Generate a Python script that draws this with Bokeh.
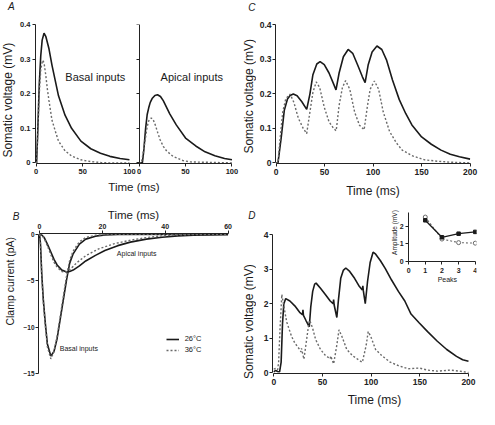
import numpy as np
from bokeh.plotting import figure
from bokeh.layouts import row, column
from bokeh.models import (Range1d, LinearAxis, FixedTicker, Label, Legend,
                          LegendItem, CustomJSTickFormatter)
from bokeh.embed import file_html
from bokeh.resources import INLINE

# ---------------- data ----------------
# Panel A, basal inputs (somatic voltage, mV)
a_bas_t26 = [0, 0.5, 1.7, 3.4, 5, 6.5, 8.5, 10.5, 13.8, 17, 20.7, 24, 31, 38, 48, 58.6, 69, 79, 90, 100]
a_bas_v26 = [0, 0, 0.086, 0.227, 0.31, 0.355, 0.375, 0.365, 0.33, 0.283, 0.236, 0.194, 0.138, 0.10, 0.063, 0.041, 0.028, 0.019, 0.013, 0.009]
a_bas_t36 = [0, 0.5, 1.7, 3.4, 5, 6.9, 8.5, 10.3, 12, 13.8, 17, 20.7, 24, 31, 38, 48, 58, 70, 80, 100]
a_bas_v36 = [0, 0, 0.08, 0.2, 0.27, 0.297, 0.29, 0.255, 0.215, 0.18, 0.124, 0.091, 0.063, 0.035, 0.02, 0.009, 0.004, 0.001, 0, 0]
# Panel A, apical inputs
a_api_t26 = [0, 3.5, 5, 7, 8.7, 10.4, 12, 14, 17, 19.8, 23, 26, 33, 40, 50, 61, 71, 81.6, 92, 100]
a_api_v26 = [0, 0, 0.035, 0.1, 0.14, 0.16, 0.175, 0.186, 0.195, 0.197, 0.192, 0.18, 0.142, 0.11, 0.072, 0.049, 0.032, 0.021, 0.013, 0.009]
a_api_t36 = [0, 2.5, 5, 8.7, 10.4, 13, 15, 17.4, 20, 22.6, 26, 29.5, 36.5, 47, 55, 100]
a_api_v36 = [0, 0, 0.04, 0.105, 0.122, 0.13, 0.126, 0.11, 0.088, 0.067, 0.048, 0.035, 0.019, 0.007, 0.003, 0]

# Panel B, clamp current (pA)
b_bas_t = [0, 0.3, 0.7, 1.2, 1.8, 2.5, 3.6, 4.6, 5.6, 6.6, 7.6, 8.6, 9.6, 10.7, 12.7, 14.7, 17.8, 20.8, 25, 60]
b_bas_i26 = [0, -1, -4.2, -7, -9.4, -11.8, -13.1, -12.6, -11.2, -9.1, -7.0, -4.9, -3.1, -2.1, -1.05, -0.52, -0.2, -0.07, -0.02, 0]
b_bas_i36 = [0, -1.1, -4.4, -7.3, -9.7, -12.1, -13.4, -12.6, -11.0, -8.8, -6.6, -4.5, -2.8, -1.8, -0.8, -0.35, -0.1, -0.03, 0, 0]
b_api_t26 = [0, 0.7, 1.5, 2.5, 3.6, 4.6, 5.6, 7.1, 8.6, 9.6, 10.7, 12.7, 14.7, 17.8, 20.8, 24.9, 28.9, 34, 39, 44, 49, 60]
b_api_i26 = [0, -0.08, -0.35, -1.05, -1.9, -2.7, -3.3, -3.85, -4.06, -4.0, -3.85, -3.4, -2.87, -2.27, -1.75, -1.22, -0.84, -0.52, -0.31, -0.17, -0.1, -0.03]
b_api_t36 = [0, 0.7, 1.5, 2.5, 3.6, 4.6, 5.6, 7.1, 8.1, 9.1, 10.7, 11.7, 14.7, 18.8, 23.9, 29, 34, 39, 44, 49, 60]
b_api_i36 = [0, -0.1, -0.45, -1.25, -2.2, -3.0, -3.55, -4.0, -4.08, -3.95, -3.45, -3.1, -2.3, -1.57, -1.0, -0.63, -0.35, -0.17, -0.07, -0.02, 0]

# Panel C, somatic voltage (mV), train of apical inputs
c_t26 = [0, 2, 5.3, 8.5, 11.8, 14.5, 17.8, 21.7, 26.6, 31.6, 34.9, 38, 42, 45.4, 49.7, 54.6, 59.5, 61.8, 65, 69.4,
         74.3, 79, 84, 89, 91.8, 95, 99, 104, 109, 113.8, 120, 127, 133.6, 140, 150, 160, 170, 179.6, 189, 200]
c_v26 = [0, 0, 0.072, 0.152, 0.185, 0.195, 0.199, 0.194, 0.177, 0.155, 0.199, 0.255, 0.286, 0.293, 0.284, 0.26, 0.227, 0.211, 0.26, 0.307,
         0.328, 0.317, 0.284, 0.249, 0.232, 0.284, 0.321, 0.338, 0.328, 0.298, 0.24, 0.183, 0.143, 0.11, 0.075, 0.054, 0.037, 0.025, 0.018, 0.011]
c_t36 = [0, 2, 3.6, 6.9, 10, 14.5, 18.4, 23, 28, 31.6, 34.9, 38, 41.4, 45, 49.7, 54.6, 59.5, 62, 65, 68.4,
         71.7, 76, 81, 86, 90.8, 94, 97, 101.4, 105.7, 110.5, 117, 124, 130, 140, 153, 166, 180, 200]
c_v36 = [0, 0, 0.053, 0.147, 0.185, 0.199, 0.175, 0.129, 0.1, 0.085, 0.147, 0.204, 0.234, 0.218, 0.161, 0.119, 0.099, 0.093, 0.166, 0.218,
         0.238, 0.213, 0.147, 0.109, 0.096, 0.161, 0.213, 0.237, 0.213, 0.147, 0.091, 0.058, 0.037, 0.021, 0.009, 0.005, 0.002, 0]

# Panel D, somatic voltage (mV)
d_t26 = [0, 2, 4, 6, 7.6, 9, 10.3, 12.3, 16.6, 21.6, 26.6, 29.5, 30, 30.5, 33, 36.5, 38, 40, 42, 43.5,
         48, 53, 58, 61, 61.5, 62, 64.8, 66.4, 68.8, 71.4, 74, 78, 83, 88, 91, 91.5, 92, 94, 96.3, 99,
         102, 104.7, 109.6, 114.6, 121, 128, 134.6, 141, 149.5, 158, 168, 177.7, 187.7, 194, 200]
d_v26 = [0.02, 0.06, 0.03, 0.02, 0.3, 1.42, 1.99, 2.15, 2.08, 1.94, 1.75, 1.68, 1.82, 1.66, 1.52, 1.33, 1.9, 2.36, 2.57, 2.6,
         2.45, 2.27, 2.08, 2.0, 2.12, 1.97, 1.6, 2.1, 2.74, 2.97, 3.04, 2.94, 2.74, 2.5, 2.4, 2.52, 2.38, 2.0, 2.64, 3.2,
         3.5, 3.44, 3.25, 3.02, 2.69, 2.36, 2.08, 1.7, 1.44, 1.19, 0.91, 0.67, 0.47, 0.37, 0.33]
d_t36 = [0, 2, 4, 5, 6.5, 8.3, 10, 13.3, 18.3, 21.6, 26.6, 28, 28.5, 31, 33, 36, 37, 40, 43, 48,
         53, 58, 58.5, 61.5, 64.8, 67, 70, 75, 81, 88, 91, 91.5, 95, 97, 99.6, 104.6, 111, 119.6, 128, 138,
         149.5, 158, 168, 181, 191, 200]
d_v36 = [0.1, 0.12, 0.08, 0.3, 1.3, 2.27, 1.99, 1.47, 1.05, 0.86, 0.67, 0.6, 0.7, 0.39, 0.8, 1.42, 1.52, 1.28, 0.96, 0.67,
         0.5, 0.4, 0.48, 0.25, 0.8, 1.24, 1.05, 0.67, 0.49, 0.35, 0.3, 0.36, 0.8, 1.19, 1.05, 0.67, 0.49, 0.3, 0.2, 0.11,
         0.13, 0.07, 0.04, 0.07, 0.04, 0.0]

# Panel D inset: amplitude of each peak (mV)
peaks = [1, 2, 3, 4]
amp_26 = [2.32, 1.37, 1.57, 1.67]
amp_36 = [2.5, 1.27, 1.07, 1.04]

# tick labels
ticks_a_y = [0, 0.1, 0.2, 0.3, 0.4]
ticks_a_x = [0, 50, 100]
ticks_b_x = [0, 20, 40, 60]
ticks_b_y = [-15, -10, -5, 0]
ticks_cd_x = [0, 50, 100, 150, 200]
ticks_d_y = [0, 1, 2, 3, 4]
ticks_in_x = [0, 1, 2, 3, 4]
ticks_in_y = [0, 1, 2]

# ---------------- layout helpers ----------------
S = 0.98
FONT = "Liberation Sans"
INK = "#1a1a1a"
DOT = "#6a6a6a"


def L(rx, ry):
    """reference picture pixel -> layout pixel"""
    return ((rx - 4) * S, (ry - 6) * S)


def lin(p0, p1, pa, va, pb, vb, pad=0.004):
    k = (vb - va) / (pb - pa)
    a, b = va + (p0 - pa) * k, va + (p1 - pa) * k
    e = (b - a) * pad
    return (a - e, b + e)


def make_spec(ox, oy, w, h, fl, fr, ft, fb, xa, ya):
    sp = dict(ox=ox, oy=oy, w=w, h=h, fl=fl, fr=fr, ft=ft, fb=fb)
    sp["xr"] = xrange_for(sp, xa)
    sp["yr"] = yrange_for(sp, ya)
    return sp


def xrange_for(sp, xa):
    (rxa, vxa), (rxb, vxb) = xa
    return lin(sp["fl"], sp["fr"], L(rxa, 0)[0] - sp["ox"], vxa, L(rxb, 0)[0] - sp["ox"], vxb)


def yrange_for(sp, ya):
    (rya, vya), (ryb, vyb) = ya
    return lin(sp["fb"], sp["ft"], L(0, rya)[1] - sp["oy"], vya, L(0, ryb)[1] - sp["oy"], vyb)


def px_to_data(sp, px, py, xr=None, yr=None):
    x0, x1 = xr if xr else sp["xr"]
    y0, y1 = yr if yr else sp["yr"]
    x = x0 + (px - sp["fl"]) / (sp["fr"] - sp["fl"]) * (x1 - x0)
    y = y0 + (sp["fb"] - py) / (sp["fb"] - sp["ft"]) * (y1 - y0)
    return x, y


def ref_to_data(sp, rx, ry, xr=None, yr=None):
    lx, ly = L(rx, ry)
    return px_to_data(sp, lx - sp["ox"], ly - sp["oy"], xr, yr)


def base_fig(w, h, xr, yr, **kw):
    p = figure(width=w, height=h, x_range=Range1d(*xr), y_range=Range1d(*yr),
               output_backend="svg", toolbar_location=None, frame_align=False, **kw)
    p.grid.visible = False
    p.outline_line_color = None
    p.background_fill_color = "white"
    p.border_fill_color = "white"
    return p


def make_fig(sp, **kw):
    return base_fig(sp["w"], sp["h"], sp["xr"], sp["yr"],
                    min_border_left=sp["fl"], min_border_right=sp["w"] - sp["fr"],
                    min_border_top=sp["ft"], min_border_bottom=sp["h"] - sp["fb"], **kw)


def make_strip(ox, oy, w, h):
    p = base_fig(w, h, (0, w), (h, 0), x_axis_location=None, y_axis_location=None,
                 min_border=0, min_border_left=0, min_border_right=0,
                 min_border_top=0, min_border_bottom=0)
    return dict(p=p, ox=ox, oy=oy)


def strip_text(st, text, rx, ry, size, angle=0.0, style="normal"):
    lx, ly = L(rx, ry)
    st["p"].add_layout(Label(x=lx - st["ox"], y=ly - st["oy"], text=text, text_font=FONT,
                             text_font_size=size, text_font_style=style, text_color=INK,
                             angle=angle, text_align="center", text_baseline="middle"))


def style_axis(ax, fs, ticks, bounds=None, standoff=2, hide_labels=False, tick_in=False):
    ax.ticker = FixedTicker(ticks=ticks)
    ax.major_label_text_font = FONT
    ax.major_label_text_font_size = fs
    ax.major_label_text_font_style = "bold"
    ax.major_label_text_color = "#222222"
    ax.axis_line_color = "#222222"
    ax.axis_line_width = 1
    ax.major_tick_line_color = "#222222"
    ax.major_tick_out = 0 if tick_in else 3
    ax.major_tick_in = 3 if tick_in else 0
    ax.minor_tick_line_color = None
    ax.major_label_standoff = standoff
    if bounds is not None:
        ax.bounds = bounds
    if hide_labels:
        ax.formatter = CustomJSTickFormatter(code="return ''")
        ax.major_label_standoff = 0


def axis_title(ax, text, size, standoff):
    ax.axis_label = text
    ax.axis_label_text_font = FONT
    ax.axis_label_text_font_size = size
    ax.axis_label_text_font_style = "normal"
    ax.axis_label_text_color = INK
    ax.axis_label_standoff = standoff


def add_text(p, sp, text, rx, ry, size, angle=0.0, xr=None, yr=None, **kw):
    x, y = ref_to_data(sp, rx, ry, xr, yr)
    p.add_layout(Label(x=x, y=y, text=text, text_font=FONT, text_font_size=size,
                       text_color=INK, angle=angle, text_align="center",
                       text_baseline="middle", **kw))


def solid(p, x, y, **kw):
    return p.line(x, y, line_color=INK, line_width=1.6, **kw)


def dotted(p, x, y, **kw):
    return p.line(x, y, line_color=DOT, line_width=1.4, line_dash="2 2", **kw)


TOP_H, BOT_H = 203, 206

# ---------------- Panel A ----------------
sA = make_strip(0, 0, 17, TOP_H)
specA = make_spec(17, 0, 223, TOP_H, 17, 215, 24, 163,
                  ((38.5, 0), (135, 100)), ((172.3, 0), (30, 0.4)))
pA = make_fig(specA)
xr_right = xrange_for(specA, ((145, 0), (241, 100)))
pA.extra_x_ranges = {"right": Range1d(*xr_right)}
solid(pA, a_bas_t26, a_bas_v26)
dotted(pA, a_bas_t36, a_bas_v36)
solid(pA, a_api_t26, a_api_v26, x_range_name="right")
dotted(pA, a_api_t36, a_api_v36, x_range_name="right")
style_axis(pA.yaxis[0], "7.5px", ticks_a_y, bounds=(0, 0.4), standoff=2)

# one time axis below both sub-panels: right-panel ticks mapped into left units
xl0, xl1 = specA["xr"]
kR = (xr_right[1] - xr_right[0]) / (xl1 - xl0)
right_in_left = [xl0 + (t - xr_right[0]) / kR for t in ticks_a_x]
style_axis(pA.xaxis[0], "7.5px", ticks_a_x + right_in_left,
           bounds=(0, right_in_left[-1]), standoff=2)
pA.xaxis[0].formatter = CustomJSTickFormatter(
    args=dict(cut=100.5, r0=xr_right[0], l0=xl0, k=kR),
    code="if (tick <= cut) { return String(Math.round(tick)); }"
         " return String(Math.round(r0 + (tick - l0) * k));")
axis_title(pA.xaxis[0], "Time (ms)", "11.5px", 4)

ax_ry = LinearAxis(x_range_name="right", fixed_location=0)
style_axis(ax_ry, "7.5px", ticks_a_y, bounds=(0, 0.4), hide_labels=True, tick_in=True)
pA.add_layout(ax_ry, "right")

strip_text(sA, "A", 15, 12, "10px", style="italic")
strip_text(sA, "Somatic voltage  (mV)", 12, 106, "12px", angle=np.pi / 2)
add_text(pA, specA, "Basal inputs", 100, 84, "11px")
add_text(pA, specA, "Apical inputs", 199, 84, "11px")

# ---------------- Panel C ----------------
sC = make_strip(240, 0, 16, TOP_H)
specC = make_spec(256, 0, 223, TOP_H, 16, 214, 24, 163,
                  ((281.3, 0), (484, 200)), ((172.3, 0), (30, 0.4)))
pC = make_fig(specC)
solid(pC, c_t26, c_v26)
dotted(pC, c_t36, c_v36)
style_axis(pC.yaxis[0], "8.5px", ticks_a_y, bounds=(0, 0.4), standoff=1)
style_axis(pC.xaxis[0], "8.5px", ticks_cd_x, bounds=(0, 200), standoff=2)
axis_title(pC.xaxis[0], "Time (ms)", "12px", 6)
strip_text(sC, "C", 260.5, 13, "10px", style="italic")
strip_text(sC, "Somatic voltage  (mV)", 258, 102, "12px", angle=np.pi / 2)

# ---------------- Panel B ----------------
sB = make_strip(0, TOP_H, 20, BOT_H)
specB = make_spec(20, TOP_H, 220, BOT_H, 15, 208, 30, 171,
                  ((40, 0), (237, 60)), ((244, 0), (387.5, -15)))
pB = make_fig(specB, x_axis_location="above")
r_bs = solid(pB, b_bas_t, b_bas_i26)
r_bd = dotted(pB, b_bas_t, b_bas_i36)
solid(pB, b_api_t26, b_api_i26)
dotted(pB, b_api_t36, b_api_i36)
style_axis(pB.yaxis[0], "6.5px", ticks_b_y, bounds=(-15, 0), standoff=1)
style_axis(pB.xaxis[0], "7px", ticks_b_x, bounds=(0, 60), standoff=2)
axis_title(pB.xaxis[0], "Time (ms)", "11.5px", 0)
strip_text(sB, "B", 20, 226, "10px", style="italic")
strip_text(sB, "Clamp current  (pA)", 13.5, 291, "10.5px", angle=np.pi / 2)
add_text(pB, specB, "Apical inputs", 141.5, 264, "7px")
add_text(pB, specB, "Basal inputs", 81.5, 361.5, "7px")
lx0 = L(170, 0)[0] - specB["ox"] - specB["fl"]
ly_bottom = L(0, 363)[1] - specB["oy"] + 5
leg = Legend(items=[LegendItem(label="26°C", renderers=[r_bs]),
                    LegendItem(label="36°C", renderers=[r_bd])],
             location=(lx0, specB["fb"] - ly_bottom),
             glyph_width=13, glyph_height=10, label_height=10, label_width=20,
             spacing=1, padding=0, margin=0, border_line_color=None,
             background_fill_alpha=0, label_text_font=FONT,
             label_text_font_size="7.5px", label_standoff=6, label_text_color=INK)
pB.add_layout(leg)

# ---------------- Panel D ----------------
sD = make_strip(240, TOP_H, 16, BOT_H)
specD = make_spec(256, TOP_H, 223, BOT_H, 16, 220, 3, 171,
                  ((282, 0), (482.3, 200)), ((387.3, 0), (245, 4)))
pD = make_fig(specD)
xr_in = xrange_for(specD, ((420.7, 0), (489.3, 4)))
yr_in = yrange_for(specD, ((272.7, 0), (235.7, 2)))
pD.extra_x_ranges = {"ix": Range1d(*xr_in)}
pD.extra_y_ranges = {"iy": Range1d(*yr_in)}
solid(pD, d_t26, d_v26)
dotted(pD, d_t36, d_v36)
style_axis(pD.yaxis[0], "8.5px", ticks_d_y, bounds=(0, 4), standoff=1)
style_axis(pD.xaxis[0], "8.5px", ticks_cd_x, bounds=(0, 200), standoff=2)
axis_title(pD.xaxis[0], "Time (ms)", "12px", 5)

# inset axes (drawn inside the frame, ticks pointing outwards of the inset)
ax_iy = LinearAxis(x_range_name="ix", y_range_name="iy", fixed_location=0)
style_axis(ax_iy, "7px", ticks_in_y, bounds=(0, 2.75), hide_labels=True, tick_in=True)
pD.add_layout(ax_iy, "right")
ax_ix = LinearAxis(x_range_name="ix", y_range_name="iy", fixed_location=0)
style_axis(ax_ix, "7px", ticks_in_x, bounds=(0, 4), hide_labels=True, tick_in=True)
pD.add_layout(ax_ix, "above")
pD.line(peaks, amp_36, line_color=DOT, line_width=1.1, line_dash="2 2",
        x_range_name="ix", y_range_name="iy")
pD.scatter(peaks, amp_36, marker="circle", size=4, fill_color="white",
           line_color=DOT, line_width=1, x_range_name="ix", y_range_name="iy")
pD.line(peaks, amp_26, line_color=INK, line_width=1.3,
        x_range_name="ix", y_range_name="iy")
pD.scatter(peaks, amp_26, marker="square", size=3.5, fill_color=INK,
           line_color=INK, x_range_name="ix", y_range_name="iy")
# inset tick labels
for v in ticks_in_x:
    px = specD["fl"] + (v - xr_in[0]) / (xr_in[1] - xr_in[0]) * (specD["fr"] - specD["fl"])
    x, y = px_to_data(specD, px, L(0, 282)[1] - specD["oy"], xr_in, yr_in)
    pD.add_layout(Label(x=x, y=y, text=str(v), x_range_name="ix", y_range_name="iy",
                        text_font=FONT, text_font_size="7px", text_font_style="bold",
                        text_color="#222222", text_align="center", text_baseline="middle"))
for v in ticks_in_y:
    py = specD["fb"] - (v - yr_in[0]) / (yr_in[1] - yr_in[0]) * (specD["fb"] - specD["ft"])
    x, y = px_to_data(specD, L(413.5, 0)[0] - specD["ox"], py, xr_in, yr_in)
    pD.add_layout(Label(x=x, y=y, text=str(v), x_range_name="ix", y_range_name="iy",
                        text_font=FONT, text_font_size="7px", text_font_style="bold",
                        text_color="#222222", text_align="center", text_baseline="middle"))
add_text(pD, specD, "Amplitude  (mV)", 406.5, 242, "6.5px", angle=np.pi / 2)
add_text(pD, specD, "Peaks", 460, 291, "7px")
strip_text(sD, "D", 260.5, 225, "10px", style="italic")
strip_text(sD, "Somatic voltage  (mV)", 258, 332, "12px", angle=np.pi / 2)

layout = column(row(sA["p"], pA, sC["p"], pC), row(sB["p"], pB, sD["p"], pD))
open("out.html", "w").write(file_html(layout, INLINE))
